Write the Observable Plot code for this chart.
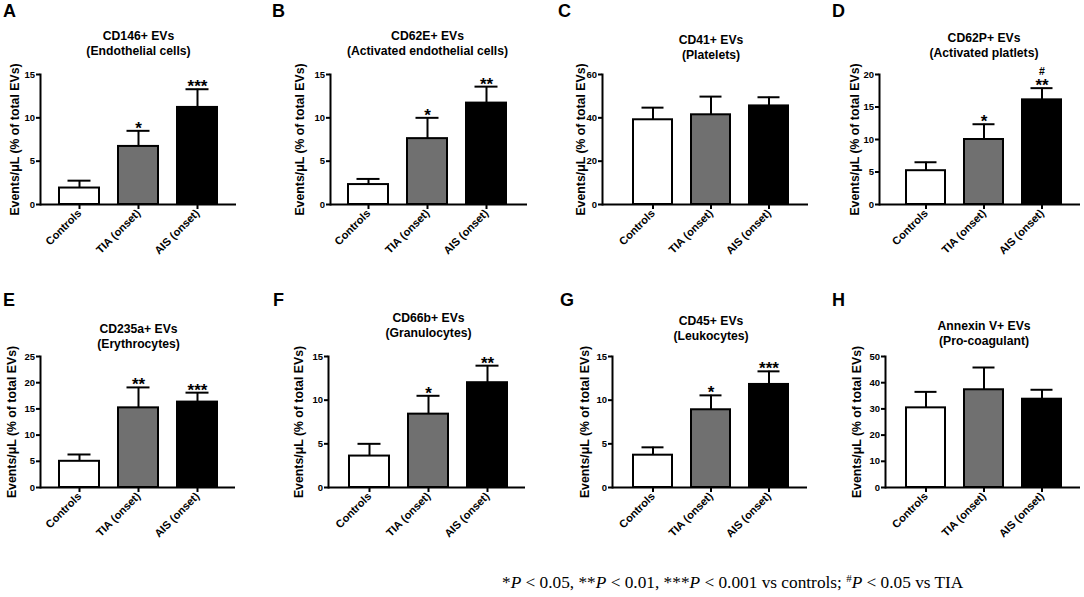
<!DOCTYPE html>
<html>
<head>
<meta charset="utf-8">
<script src="https://cdn.jsdelivr.net/npm/d3@7"></script>
<script src="https://cdn.jsdelivr.net/npm/@observablehq/plot@0.6"></script>
<style>
  html, body { margin: 0; padding: 0; background: #fff; overflow: hidden; }
  #root { position: relative; width: 1084px; height: 597px; overflow: hidden; font-family: "Liberation Sans", Arial, sans-serif; }
  .panel { position: absolute; }
  .letter { position: absolute; font: bold 18px/18px "Liberation Sans", Arial, sans-serif; color: #000; }
  #foot { position: absolute; left: 502px; top: 570px; font: 17.3px/17.3px "Liberation Serif", "Times New Roman", serif; color: #000; white-space: nowrap; }
  #foot i { font-style: italic; }
  #foot .sup { font-size: 11px; vertical-align: 6px; }
</style>
</head>
<body>
<div id="root"></div>
<script>
// ---------- data ----------
const groups = ["Controls", "TIA (onset)", "AIS (onset)"];
const panelLetters = ["A", "B", "C", "D", "E", "F", "G", "H"];
const markerNames = ["CD146+ EVs", "CD62E+ EVs", "CD41+ EVs", "CD62P+ EVs", "CD235a+ EVs", "CD66b+ EVs", "CD45+ EVs", "Annexin V+ EVs"];
const cellTypes = ["(Endothelial cells)", "(Activated endothelial cells)", "(Platelets)", "(Activated platlets)", "(Erythrocytes)", "(Granulocytes)", "(Leukocytes)", "(Pro-coagulant)"];
const yMaxima = [15, 15, 60, 20, 25, 15, 15, 50];
const yTickSteps = [5, 5, 20, 5, 5, 5, 5, 10];
const meanValues = [
  [1.9, 6.7, 11.2],
  [2.3, 7.6, 11.7],
  [39.1, 41.4, 45.5],
  [5.2, 10.0, 16.1],
  [5.0, 15.2, 16.3],
  [3.6, 8.4, 12.0],
  [3.7, 8.9, 11.8],
  [30.4, 37.3, 33.7]
];
const semValues = [
  [0.85, 1.8, 2.1],
  [0.65, 2.4, 1.9],
  [5.6, 8.4, 4.0],
  [1.3, 2.35, 1.8],
  [1.3, 3.9, 1.8],
  [1.4, 2.1, 1.95],
  [0.9, 1.65, 1.5],
  [6.1, 8.5, 3.6]
];
const starLabels = [
  ["", "*", "***"], ["", "*", "**"], ["", "", ""], ["", "*", "**"],
  ["", "**", "***"], ["", "*", "**"], ["", "*", "***"], ["", "", ""]
];
const hashLabels = [
  ["", "", ""], ["", "", ""], ["", "", ""], ["", "", "#"],
  ["", "", ""], ["", "", ""], ["", "", ""], ["", "", ""]
];
const yAxisLabel = "Events/\u03bcL (% of total EVs)";

// ---------- styling / layout ----------
const groupFills = ["#ffffff", "#707070", "#000000"];
const rowsLayout = [
  {top: 0, height: 270, frameTop: 74, frameBottom: 204, letterTop: 2},
  {top: 270, height: 275, frameTop: 356, frameBottom: 487, letterTop: 291}
];
const panelLayout = [
  {row: 0, axis: 40, end: 236, bars: [58, 217], titleOff: 24, labelX: 15, letterX: 3},
  {row: 0, axis: 330, end: 527, bars: [348, 506], titleOff: 24, labelX: 300, letterX: 272},
  {row: 0, axis: 602, end: 808, bars: [632, 789], titleOff: 20, labelX: 581, letterX: 558},
  {row: 0, axis: 879, end: 1080, bars: [905, 1062], titleOff: 22, labelX: 855, letterX: 832},
  {row: 1, axis: 40, end: 235, bars: [58, 217], titleOff: 13, labelX: 12, letterX: 3},
  {row: 1, axis: 328, end: 525, bars: [348, 507], titleOff: 24, labelX: 299, letterX: 273},
  {row: 1, axis: 612, end: 807, bars: [632, 789], titleOff: 21, labelX: 585, letterX: 560},
  {row: 1, axis: 885, end: 1080, bars: [905, 1062], titleOff: 16, labelX: 857, letterX: 832}
];

const root = document.getElementById("root");

panelLetters.forEach((letter, i) => {
  const lay = panelLayout[i];
  const row = rowsLayout[lay.row];
  const left = lay.axis - 50;
  const marginRight = 4;
  const width = lay.end + marginRight - left;
  const data = groups.map((g, j) => ({
    group: g,
    mean: meanValues[i][j],
    sem: semValues[i][j],
    star: starLabels[i][j],
    hash: hashLabels[i][j]
  }));
  const ticks = d3.range(0, yMaxima[i] + 1e-9, yTickSteps[i]);

  const chart = Plot.plot({
    width,
    height: row.height,
    marginLeft: 50,
    marginRight,
    marginTop: row.frameTop - row.top,
    marginBottom: row.top + row.height - row.frameBottom,
    style: {background: "none", fontFamily: "'Liberation Sans', Arial, sans-serif", overflow: "visible", color: "#000"},
    x: {type: "band", domain: groups, range: [lay.bars[0] - left, lay.bars[1] - left], paddingInner: 0.33, paddingOuter: 0, align: 0.5},
    y: {domain: [0, yMaxima[i]]},
    color: {domain: groups, range: groupFills},
    marks: [
      Plot.barY(data, {x: "group", y: "mean", fill: "group", stroke: "#000", strokeWidth: 2}),
      Plot.ruleX(data, {x: "group", y1: "mean", y2: d => d.mean + d.sem, stroke: "#000", strokeWidth: 2}),
      Plot.tickY(data, {x: "group", y: d => d.mean + d.sem, stroke: "#000", strokeWidth: 2, insetLeft: 8.5, insetRight: 8.5}),
      Plot.text(data.filter(d => d.star), {x: "group", y: d => d.mean + d.sem, text: "star", lineAnchor: "bottom", dy: 3, fontSize: 17, fontWeight: "bold"}),
      Plot.text(data.filter(d => d.hash), {x: "group", y: d => d.mean + d.sem, text: "hash", lineAnchor: "bottom", dy: -13, fontSize: 10.5, fontWeight: "bold"}),
      Plot.axisY({ticks, tickSize: 4, tickPadding: 1.5, tickFormat: d3.format("d"), fontSize: 9.5, fontWeight: "bold", strokeWidth: 2, label: null}),
      Plot.axisX({tickSize: 5, tickPadding: 2, tickRotate: -45, fontSize: 11, fontWeight: "bold", strokeWidth: 2, label: null}),
      Plot.frame({anchor: "left", strokeWidth: 2}),
      Plot.ruleY([0], {strokeWidth: 2}),
      Plot.text([markerNames[i] + "\n" + cellTypes[i]], {x: () => groups[1], frameAnchor: "top", lineAnchor: "bottom", dy: -(lay.titleOff - 4), fontSize: 12.2, fontWeight: "bold", lineHeight: 1.22}),
      Plot.text([yAxisLabel], {frameAnchor: "left", dx: lay.labelX - lay.axis, rotate: -90, textAnchor: "middle", fontSize: 12.3, fontWeight: "bold"})
    ]
  });
  const holder = document.createElement("div");
  holder.className = "panel";
  holder.style.left = left + "px";
  holder.style.top = row.top + "px";
  holder.appendChild(chart);
  root.appendChild(holder);

  const lt = document.createElement("div");
  lt.className = "letter";
  lt.style.left = lay.letterX + "px";
  lt.style.top = row.letterTop + "px";
  lt.textContent = letter;
  root.appendChild(lt);
});

const foot = document.createElement("div");
foot.id = "foot";
foot.innerHTML = "*<i>P</i> &lt; 0.05, **<i>P</i> &lt; 0.01, ***<i>P</i> &lt; 0.001 vs controls; <span class=\"sup\">#</span><i>P</i> &lt; 0.05 vs TIA";
root.appendChild(foot);
</script>
</body>
</html>
